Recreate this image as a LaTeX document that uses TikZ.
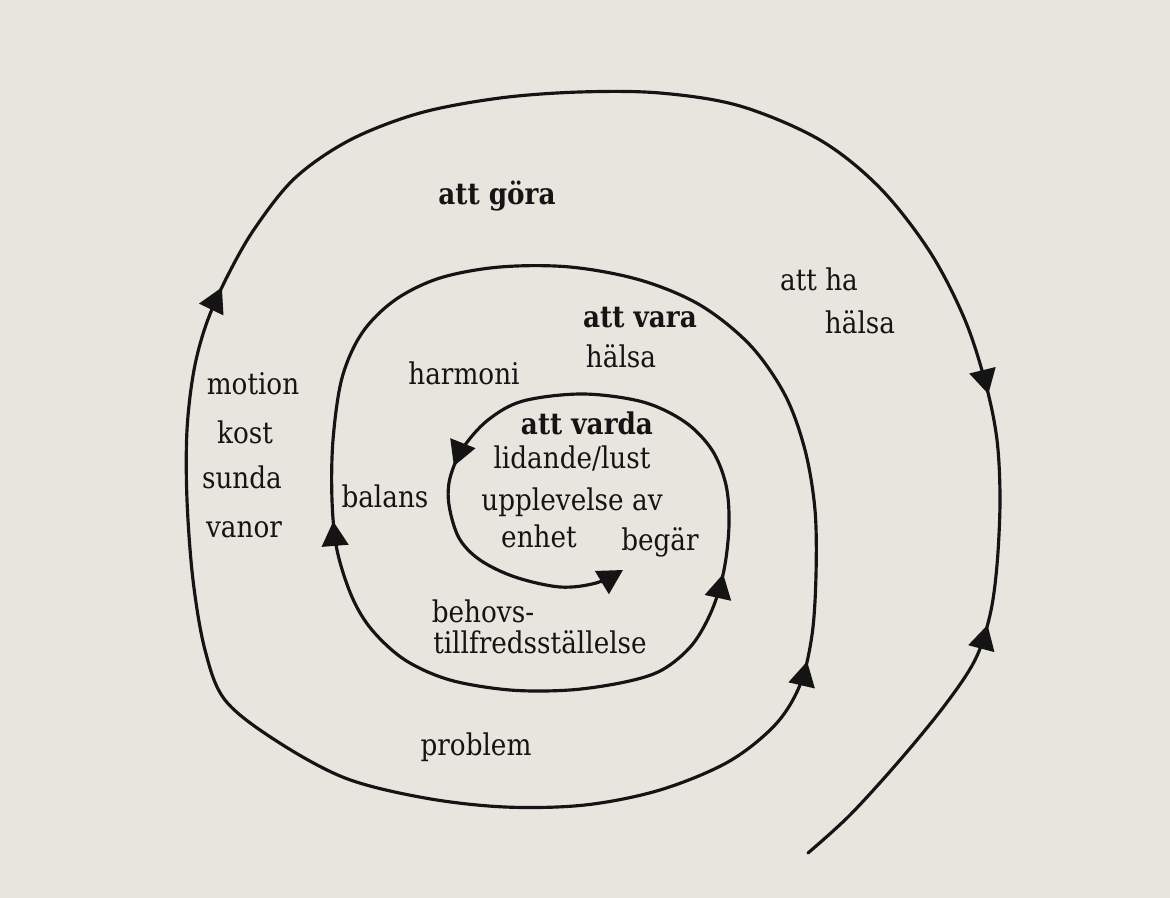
\documentclass[tikz,border=0pt]{standalone}
\usepackage{fontspec}
\setmainfont{DejaVu Serif}[FakeStretch=0.88]
\usetikzlibrary{arrows.meta,decorations.markings}
\definecolor{paper}{RGB}{231,229,222}
\definecolor{ink}{RGB}{20,20,20}
\tikzset{
  spiral/.style={draw=ink, line width=1.8pt, line join=round, line cap=round},
  tri/.tip={Triangle[length=14pt,width=15pt]},
  lbl/.style={text=ink, font=\fontsize{17}{25}\selectfont, inner sep=0pt, anchor=base},
  blbl/.style={lbl, font=\fontsize{17}{25}\selectfont\bfseries},
}
\begin{document}
\begin{tikzpicture}[x=0.02cm,y=-0.02cm]
\useasboundingbox (0,0) rectangle (1170,898);
\fill[paper] (0,0) rectangle (1170,898);

\draw[spiral, -{tri}, postaction={decorate},
  decoration={markings,
    mark=at position 0.0611 with {\arrow{tri}},
    mark=at position 0.1095 with {\arrowreversed{tri}},
    mark=at position 0.3170 with {\arrowreversed{tri}},
    mark=at position 0.5445 with {\arrow{tri}},
    mark=at position 0.7433 with {\arrowreversed{tri}},
    mark=at position 0.8566 with {\arrow{tri}},
    mark=at position 0.9466 with {\arrow{tri}}}]
  plot[smooth, tension=0.55] coordinates {
  (808,853) (850,815) (900,760) (945,705) (975,660) (990,615) (997,565)
  (1000,500) (997,440) (986,385) (965,320) (930,252) (880,188) (820,140)
  (740,106) (660,93) (580,92) (500,98) (420,113) (350,140) (295,178)
  (255,228) (228,275) (207,322) (194,370) (187,430) (187,500)
  (193,580) (205,650)
  (225,700) (275,740) (345,778) (425,798) (505,807) (585,805) (660,790)
  (728,762) (775,725) (800,685) (812,635) (816,575) (815,510) (805,450)
  (785,395) (750,345) (700,305) (640,280) (570,267) (500,267) (440,278)
  (395,300) (362,333) (342,378) (333,440) (332,500) (337,550) (352,597)
  (372,630) (405,660) (450,680) (510,690) (570,690) (625,682) (662,670)
  (692,645) (712,610) (724,570) (729,525) (726,485) (712,450) (685,422)
  (643,402) (583,394) (523,401) (488,420) (463,448) (450,478) (449,505)
  (459,538) (480,560) (515,577) (560,587) (596,583) (623,570)};

\node[blbl] (gora) at (497,205) {att göra};
\node[lbl] (attha) at (819,291) {att ha};
\node[lbl] (halsa1) at (860,334) {hälsa};
\node[blbl] (vara) at (640,328) {att vara};
\node[lbl] (halsa2) at (621,368) {hälsa};
\node[lbl] (harmoni) at (464,385) {harmoni};
\node[lbl] (motion) at (253,395) {motion};
\node[lbl] (kost) at (245,443) {kost};
\node[lbl] (sunda) at (242,488) {sunda};
\node[lbl] (vanor) at (244,537) {vanor};
\node[lbl] (balans) at (385,507) {balans};
\node[blbl] (varda) at (587,435) {att varda};
\node[lbl] (lidande) at (572,468) {lidande/lust};
\node[lbl] (upplevelse) at (572,510) {upplevelse av};
\node[lbl] (enhet) at (539,547) {enhet};
\node[lbl] (begar) at (660,550) {begär};
\node[lbl] (behovs) at (483,622) {behovs-};
\node[lbl] (tillfreds) at (540,653) {tillfredsställelse};
\node[lbl] (problem) at (476,755) {problem};
\end{tikzpicture}
\end{document}
